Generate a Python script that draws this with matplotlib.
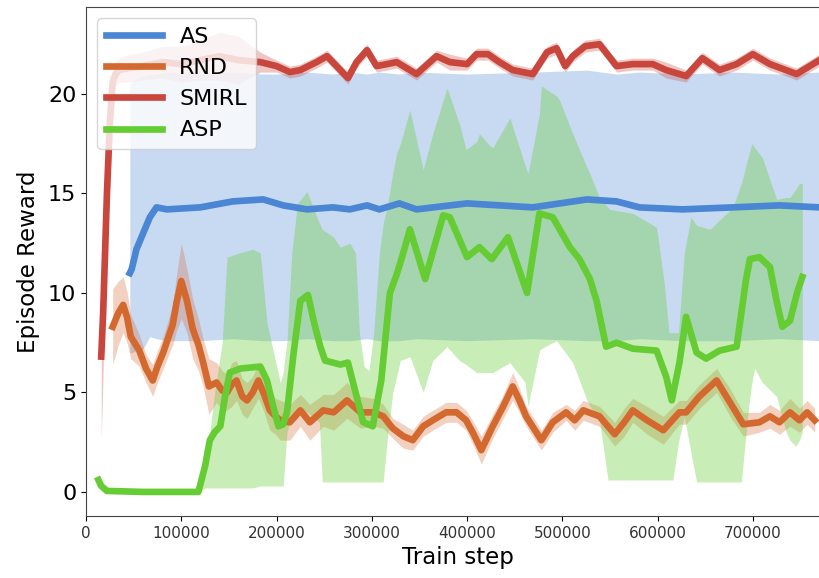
import matplotlib.pyplot as plt
import numpy as np

# x values in thousands of train steps
as_x = [46, 48, 53, 60, 67, 74, 85, 120, 154, 186, 207, 232, 259, 277, 295, 308, 329, 347,
        400, 469, 526, 557, 581, 626, 679, 728, 770]
as_y = [11.0, 11.2, 12.2, 13.0, 13.8, 14.3, 14.2, 14.3, 14.6, 14.7, 14.4, 14.2, 14.3, 14.2,
        14.4, 14.2, 14.5, 14.2, 14.5, 14.3, 14.7, 14.6, 14.3, 14.2, 14.3, 14.4, 14.3]
as_lo = [7.0, 7.0, 7.1, 7.2, 7.8, 7.7, 7.6, 7.6, 7.7, 7.6, 7.6, 7.7, 7.6, 7.6, 7.7, 7.6,
         7.6, 7.7, 7.6, 7.7, 7.6, 7.6, 7.7, 7.6, 7.6, 7.7, 7.6]
as_hi = [20.5, 20.6, 20.8, 20.9, 21.0, 21.0, 21.1, 21.0, 21.1, 21.0, 21.0, 21.1, 21.0, 21.1,
         21.0, 21.1, 21.0, 21.1, 21.0, 21.1, 21.2, 21.0, 21.1, 21.0, 21.1, 21.0, 21.1]

rnd_x = [28, 34, 39, 43, 47, 56, 63, 70, 75, 81, 86, 91, 95, 100, 106, 112, 118, 123, 129,
         137, 143, 148, 153, 158, 164, 169, 175, 181, 187, 193, 199, 204, 214, 225, 235, 249,
         260, 274, 288, 302, 312, 322, 333, 343, 354, 364, 378, 389, 399, 407, 415, 427, 438,
         448, 455, 462, 470, 478, 490, 504, 513, 522, 539, 555, 565, 574, 589, 606, 623, 630,
         644, 662, 676, 690, 707, 718, 728, 739, 749, 757, 765]
rnd_y = [8.3, 9.0, 9.4, 8.8, 7.8, 7.1, 6.2, 5.6, 6.3, 7.0, 7.7, 8.4, 9.5, 10.6, 9.6, 8.2,
         7.4, 6.5, 5.3, 5.5, 5.1, 5.0, 5.4, 5.6, 4.8, 4.6, 5.0, 5.6, 4.9, 4.1, 3.8, 3.6, 3.5,
         4.1, 3.5, 4.1, 4.0, 4.6, 4.0, 4.0, 3.8, 3.2, 2.8, 2.6, 3.3, 3.6, 4.0, 4.0, 3.6, 2.9,
         2.1, 3.3, 4.3, 5.3, 4.6, 3.8, 3.2, 2.6, 3.5, 4.0, 3.6, 4.1, 3.8, 2.9, 3.5, 4.1, 3.6,
         3.1, 4.0, 4.0, 4.8, 5.6, 4.5, 3.4, 3.5, 3.8, 3.5, 4.0, 3.6, 4.0, 3.6]
rnd_err = [1.9, 1.6, 1.4, 1.3, 1.1, 0.8, 0.7, 0.8, 0.8, 0.8, 0.9, 1.0, 1.4, 1.9, 1.6, 1.5,
           1.3, 1.2, 1.4, 1.0, 1.0, 0.9, 1.1, 1.0, 0.9, 0.9, 0.8, 0.9, 0.9, 1.0, 0.9, 1.0,
           0.9, 0.8, 0.9, 0.8, 0.9, 0.9, 0.8, 0.7, 0.6, 0.5, 0.6, 0.5, 0.5, 0.5, 0.5, 0.5,
           0.5, 0.6, 0.7, 0.6, 0.6, 0.7, 0.6, 0.5, 0.5, 0.5, 0.5, 0.4, 0.5, 0.5, 0.5, 0.6,
           0.7, 0.6, 0.7, 0.7, 0.6, 0.6, 0.6, 0.6, 0.7, 0.6, 0.5, 0.6, 0.6, 0.7, 0.6, 0.6,
           0.6]

smirl_x = [16, 18, 20, 22, 25, 28, 31, 35, 45, 60, 80, 100, 120, 140, 160, 183, 200, 214,
           225, 242, 253, 263, 275, 284, 295, 305, 316, 326, 347, 368, 382, 400, 410, 422,
           434, 448, 469, 484, 494, 503, 511, 524, 539, 557, 574, 595, 609, 630, 647, 665,
           683, 700, 718, 746, 770]
smirl_y = [6.8, 9.0, 12.0, 15.0, 18.5, 20.6, 21.0, 21.2, 21.3, 21.4, 21.6, 21.5, 21.7, 21.9,
           21.7, 21.6, 21.4, 21.1, 21.2, 21.6, 21.9, 21.4, 20.8, 21.6, 22.2, 21.4, 21.5,
           21.6, 21.0, 21.9, 21.6, 21.5, 22.0, 22.0, 21.6, 21.2, 21.0, 22.1, 22.3, 21.4,
           21.9, 22.4, 22.5, 21.4, 21.5, 21.5, 21.2, 20.9, 21.8, 21.2, 21.5, 22.0, 21.5,
           21.0, 21.7]
smirl_err = [4.2, 3.0, 2.0, 1.2, 1.0, 0.8, 0.6, 0.6, 0.7, 0.7, 0.8, 0.9, 1.0, 1.2, 1.2, 0.5,
             0.3, 0.3, 0.3, 0.3, 0.3, 0.3, 0.3, 0.3, 0.3, 0.3, 0.3, 0.3, 0.3, 0.3, 0.4, 0.3,
             0.3, 0.3, 0.3, 0.3, 0.3, 0.3, 0.3, 0.3, 0.3, 0.3, 0.3, 0.3, 0.3, 0.3, 0.4, 0.3,
             0.3, 0.3, 0.3, 0.3, 0.3, 0.3, 0.3]

asp_x = [13, 16, 22, 60, 118, 125, 130, 135, 141, 146, 151, 162, 183, 190, 196, 202, 207,
         211, 218, 225, 233, 240, 246, 251, 267, 275, 283, 291, 301, 310, 319, 326, 333, 340,
         356, 375, 382, 400, 413, 426, 443, 463, 476, 490, 508, 518, 529, 536, 546, 557, 574,
         599, 609, 615, 623, 630, 641, 651, 665, 683, 693, 697, 707, 718, 725, 731, 739, 747,
         752]
asp_y = [0.6, 0.3, 0.05, 0.0, 0.0, 1.3, 2.6, 3.0, 3.3, 4.8, 6.0, 6.2, 6.3, 5.6, 4.4, 3.3,
         3.4, 4.0, 7.0, 9.6, 9.9, 8.4, 7.3, 6.6, 6.4, 6.5, 5.0, 3.5, 3.3, 5.6, 10.0, 10.9,
         12.0, 13.2, 10.7, 13.9, 13.8, 11.8, 12.3, 11.7, 12.8, 10.0, 14.0, 13.8, 12.3, 11.7,
         10.7, 9.6, 7.3, 7.5, 7.2, 7.1, 5.8, 4.6, 6.5, 8.8, 7.0, 6.7, 7.1, 7.3, 10.7, 11.7,
         11.8, 11.3, 9.6, 8.3, 8.6, 10.1, 10.8]

asp_band_x = [13, 118, 125, 135, 143, 148, 160, 175, 183, 190, 197, 204, 207, 211, 216,
              222, 232, 245, 248, 260, 267, 277, 283, 287, 292, 297, 302, 308, 312, 316,
              322, 326, 330, 340, 354, 364, 379, 392, 399, 410, 413, 424, 427, 445, 461,
              464, 476, 478, 494, 497, 511, 526, 529, 539, 548, 550, 574, 599, 607, 612,
              616, 622, 628, 635, 641, 655, 679, 688, 695, 699, 702, 710, 725, 735, 739,
              745, 749, 752]
asp_lo = [0.6, 0.0, 0.2, 0.2, 0.2, 0.2, 0.2, 0.2, 0.3, 0.3, 0.3, 0.3, 0.3, 3.0, 3.8,
          4.0, 4.0, 3.5, 0.5, 0.5, 0.5, 0.5, 0.5, 0.5, 0.5, 0.5, 0.5, 0.5, 0.5, 2.5,
          5.0, 5.8, 6.6, 6.8, 5.0, 6.6, 7.3, 6.6, 6.4, 6.0, 6.0, 6.0, 6.0, 6.5, 5.5,
          4.3, 7.1, 7.2, 7.6, 7.4, 6.5, 4.6, 4.3, 3.6, 0.6, 0.6, 0.6, 0.6, 0.6, 0.6,
          0.6, 2.5, 3.8, 2.0, 0.5, 0.5, 0.5, 0.5, 4.0, 5.5, 6.2, 5.5, 4.8, 3.0, 2.6,
          2.3, 2.6, 3.0]
asp_hi = [0.6, 0.0, 1.0, 5.0, 7.5, 11.8, 12.0, 12.2, 12.0, 8.5, 7.0, 5.5, 6.0, 7.6, 12.0,
          14.5, 15.1, 13.5, 13.2, 12.8, 12.3, 12.5, 12.0, 8.0, 6.3, 6.1, 8.0, 12.0, 13.5,
          14.3, 16.0, 17.0, 17.5, 19.2, 16.2, 18.0, 20.3, 18.5, 17.2, 17.6, 18.0, 17.4,
          17.3, 18.8, 16.4, 16.0, 19.0, 20.4, 19.9, 19.7, 18.0, 16.3, 16.0, 14.8, 14.3,
          14.2, 14.0, 13.3, 10.5, 8.0, 8.0, 8.0, 12.0, 13.8, 13.4, 13.2, 14.3, 15.5, 16.8,
          17.5, 17.3, 16.8, 14.7, 14.8, 14.8, 15.2, 15.5, 15.5]

c_as = '#4a86d4'
c_rnd = '#d4692f'
c_smirl = '#c9463d'
c_asp = '#66cc33'

x_ticks = [0, 100000, 200000, 300000, 400000, 500000, 600000, 700000]
y_ticks = [0, 5, 10, 15, 20]


def steps(xs):
    return np.array(xs) * 1000


fig = plt.figure(figsize=(8.2, 5.78), dpi=100)
ax = fig.add_axes([86 / 820, 62 / 578, 743 / 820, 509 / 578])

ax.fill_between(steps(as_x), as_lo, as_hi, color=c_as, alpha=0.3, lw=0)
ry, re = np.array(rnd_y), np.array(rnd_err)
ax.fill_between(steps(rnd_x), ry - re, ry + re, color=c_rnd, alpha=0.3, lw=0)
sy, se = np.array(smirl_y), np.array(smirl_err)
ax.fill_between(steps(smirl_x), sy - se, sy + se, color=c_smirl, alpha=0.3, lw=0)
ax.fill_between(steps(asp_band_x), asp_lo, asp_hi, color=c_asp, alpha=0.35, lw=0)

ax.plot(steps(as_x), as_y, color=c_as, lw=4.8, label='AS')
ax.plot(steps(rnd_x), rnd_y, color=c_rnd, lw=4.8, label='RND')
ax.plot(steps(smirl_x), smirl_y, color=c_smirl, lw=4.8, label='SMIRL')
ax.plot(steps(asp_x), asp_y, color=c_asp, lw=4.8, label='ASP')

ax.set_xlim(0, 780000)
ax.set_ylim(-1.21, 24.37)
ax.set_xticks(x_ticks)
ax.set_xticklabels([str(t) for t in x_ticks], fontsize=11, color='#333333')
ax.set_yticks(y_ticks)
ax.set_yticklabels([str(t) for t in y_ticks], fontsize=16)
ax.set_xlabel('Train step', fontsize=16.5, labelpad=4)
ax.set_ylabel('Episode Reward', fontsize=16.5, labelpad=6)
for s in ax.spines.values():
    s.set_color('#444444')

leg = ax.legend(loc='upper left', fontsize=16, handlelength=2.5, labelspacing=0.5,
                framealpha=0.8)

fig.savefig('out.png', dpi=100)
